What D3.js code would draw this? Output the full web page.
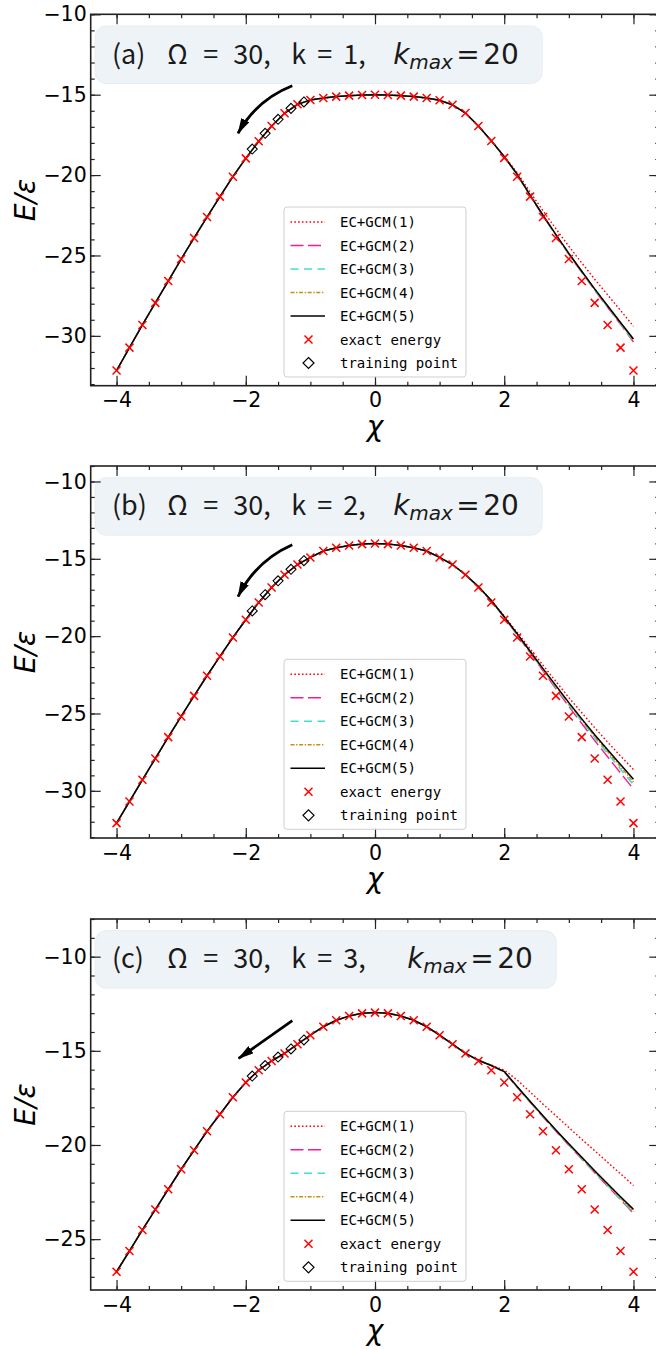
<!DOCTYPE html>
<html><head><meta charset="utf-8">
<script src="https://cdn.jsdelivr.net/npm/d3@7"></script>
<style>body{margin:0;background:#fff} svg{display:block}</style>
</head><body><svg id="chart" width="656" height="1350"></svg>
<script>
// ---------- data ----------
const xs = [-4,-3.8,-3.6,-3.4,-3.2,-3,-2.8,-2.6,-2.4,-2.2,-2,-1.8,-1.6,-1.4,-1.2,-1,-0.8,-0.6,-0.4,-0.2,0,0.2,0.4,0.6,0.8,1,1.2,1.4,1.6,1.8,2,2.2,2.4,2.6,2.8,3,3.2,3.4,3.6,3.8,4];
const trainX = [-1.9,-1.7,-1.5,-1.3,-1.1];

// panel (a)
const exactA = [-32.16,-30.73,-29.32,-27.95,-26.59,-25.22,-23.91,-22.61,-21.34,-20.10,-18.96,-17.90,-16.95,-16.16,-15.60,-15.33,-15.21,-15.12,-15.06,-15.02,-15.00,-15.02,-15.06,-15.12,-15.21,-15.35,-15.63,-16.14,-16.95,-17.88,-18.93,-20.10,-21.34,-22.61,-23.91,-25.22,-26.59,-27.95,-29.32,-30.73,-32.16];
const gcm1A = [-32.16,-30.73,-29.32,-27.95,-26.59,-25.22,-23.91,-22.61,-21.34,-20.10,-18.96,-17.90,-16.95,-16.16,-15.60,-15.33,-15.21,-15.12,-15.06,-15.02,-15.00,-15.02,-15.06,-15.12,-15.21,-15.35,-15.63,-16.14,-16.95,-17.87,-18.83,-19.85,-21.05,-22.22,-23.34,-24.43,-25.46,-26.48,-27.45,-28.42,-29.40];
const gcm2A = [-32.16,-30.73,-29.32,-27.95,-26.59,-25.22,-23.91,-22.61,-21.34,-20.10,-18.96,-17.90,-16.95,-16.16,-15.60,-15.33,-15.21,-15.12,-15.06,-15.02,-15.00,-15.02,-15.06,-15.12,-15.21,-15.35,-15.63,-16.14,-16.95,-17.87,-18.86,-19.97,-21.28,-22.54,-23.75,-24.93,-26.05,-27.16,-28.23,-29.29,-30.38];
const gcm3A = [-32.16,-30.73,-29.32,-27.95,-26.59,-25.22,-23.91,-22.61,-21.34,-20.10,-18.96,-17.90,-16.95,-16.16,-15.60,-15.33,-15.21,-15.12,-15.06,-15.02,-15.00,-15.02,-15.06,-15.12,-15.21,-15.35,-15.63,-16.14,-16.95,-17.87,-18.86,-19.96,-21.27,-22.53,-23.73,-24.91,-26.03,-27.13,-28.20,-29.25,-30.33];
const gcm4A = [-32.16,-30.73,-29.32,-27.95,-26.59,-25.22,-23.91,-22.61,-21.34,-20.10,-18.96,-17.90,-16.95,-16.16,-15.60,-15.33,-15.21,-15.12,-15.06,-15.02,-15.00,-15.02,-15.06,-15.12,-15.21,-15.35,-15.63,-16.14,-16.95,-17.87,-18.85,-19.96,-21.26,-22.52,-23.72,-24.90,-26.01,-27.11,-28.17,-29.22,-30.28];
const gcm5A = [-32.16,-30.73,-29.32,-27.95,-26.59,-25.22,-23.91,-22.61,-21.34,-20.10,-18.96,-17.90,-16.95,-16.16,-15.60,-15.33,-15.21,-15.12,-15.06,-15.02,-15.00,-15.02,-15.06,-15.12,-15.21,-15.35,-15.63,-16.14,-16.95,-17.87,-18.85,-19.95,-21.25,-22.50,-23.70,-24.87,-25.98,-27.08,-28.13,-29.17,-30.20];
const trainA = [-18.38,-17.40,-16.53,-15.85,-15.45];

// panel (b)
const exactB = [-32.09,-30.69,-29.29,-27.91,-26.53,-25.19,-23.86,-22.56,-21.31,-20.09,-18.94,-17.82,-16.85,-16.03,-15.37,-14.91,-14.50,-14.29,-14.14,-14.05,-14.01,-14.05,-14.14,-14.29,-14.50,-14.91,-15.37,-16.03,-16.85,-17.82,-18.94,-20.09,-21.31,-22.56,-23.86,-25.19,-26.53,-27.91,-29.29,-30.69,-32.09];
const gcm1B = [-32.09,-30.69,-29.29,-27.91,-26.53,-25.19,-23.86,-22.56,-21.31,-20.09,-18.94,-17.82,-16.85,-16.03,-15.37,-14.91,-14.50,-14.29,-14.14,-14.05,-14.01,-14.05,-14.14,-14.29,-14.50,-14.91,-15.37,-16.03,-16.80,-17.68,-18.70,-19.75,-20.82,-21.88,-22.93,-23.97,-24.95,-25.92,-26.85,-27.75,-28.62];
const gcm2B = [-32.09,-30.69,-29.29,-27.91,-26.53,-25.19,-23.86,-22.56,-21.31,-20.09,-18.94,-17.82,-16.85,-16.03,-15.37,-14.91,-14.50,-14.29,-14.14,-14.05,-14.01,-14.05,-14.14,-14.29,-14.50,-14.91,-15.37,-16.03,-16.80,-17.72,-18.78,-19.92,-21.08,-22.25,-23.40,-24.55,-25.65,-26.75,-27.80,-28.85,-29.88];
const gcm3B = [-32.09,-30.69,-29.29,-27.91,-26.53,-25.19,-23.86,-22.56,-21.31,-20.09,-18.94,-17.82,-16.85,-16.03,-15.37,-14.91,-14.50,-14.29,-14.14,-14.05,-14.01,-14.05,-14.14,-14.29,-14.50,-14.91,-15.37,-16.03,-16.80,-17.71,-18.77,-19.90,-21.04,-22.18,-23.30,-24.43,-25.50,-26.57,-27.58,-28.60,-29.60];
const gcm4B = [-32.09,-30.69,-29.29,-27.91,-26.53,-25.19,-23.86,-22.56,-21.31,-20.09,-18.94,-17.82,-16.85,-16.03,-15.37,-14.91,-14.50,-14.29,-14.14,-14.05,-14.01,-14.05,-14.14,-14.29,-14.50,-14.91,-15.37,-16.03,-16.80,-17.71,-18.76,-19.88,-21.01,-22.14,-23.25,-24.36,-25.42,-26.48,-27.46,-28.45,-29.42];
const gcm5B = [-32.09,-30.69,-29.29,-27.91,-26.53,-25.19,-23.86,-22.56,-21.31,-20.09,-18.94,-17.82,-16.85,-16.03,-15.37,-14.91,-14.50,-14.29,-14.14,-14.05,-14.01,-14.05,-14.14,-14.29,-14.50,-14.91,-15.37,-16.03,-16.80,-17.70,-18.75,-19.85,-20.98,-22.10,-23.20,-24.30,-25.35,-26.38,-27.35,-28.30,-29.25];
const trainB = [-18.37,-17.32,-16.42,-15.68,-15.12];

// panel (c)
const exactC = [-26.73,-25.63,-24.51,-23.43,-22.35,-21.29,-20.28,-19.27,-18.37,-17.47,-16.68,-16.03,-15.54,-15.14,-14.65,-14.17,-13.72,-13.38,-13.15,-13.01,-12.97,-13.01,-13.15,-13.38,-13.72,-14.17,-14.65,-15.14,-15.54,-16.03,-16.68,-17.47,-18.37,-19.27,-20.28,-21.29,-22.35,-23.43,-24.51,-25.63,-26.73];
const gcm1C = [-26.73,-25.63,-24.51,-23.43,-22.35,-21.29,-20.28,-19.27,-18.37,-17.47,-16.68,-16.03,-15.54,-15.14,-14.65,-14.17,-13.72,-13.38,-13.15,-13.01,-12.97,-13.01,-13.15,-13.38,-13.72,-14.17,-14.65,-15.14,-15.50,-15.76,-16.02,-16.55,-17.18,-17.83,-18.45,-19.07,-19.70,-20.30,-20.92,-21.53,-22.15];
const gcm2C = [-26.73,-25.63,-24.51,-23.43,-22.35,-21.29,-20.28,-19.27,-18.37,-17.47,-16.68,-16.03,-15.54,-15.14,-14.65,-14.17,-13.72,-13.38,-13.15,-13.01,-12.97,-13.01,-13.15,-13.38,-13.72,-14.17,-14.65,-15.14,-15.50,-15.79,-16.12,-16.94,-17.73,-18.51,-19.27,-20.01,-20.75,-21.48,-22.19,-22.90,-23.64];
const gcm3C = [-26.73,-25.63,-24.51,-23.43,-22.35,-21.29,-20.28,-19.27,-18.37,-17.47,-16.68,-16.03,-15.54,-15.14,-14.65,-14.17,-13.72,-13.38,-13.15,-13.01,-12.97,-13.01,-13.15,-13.38,-13.72,-14.17,-14.65,-15.14,-15.50,-15.79,-16.12,-16.93,-17.72,-18.49,-19.25,-19.99,-20.72,-21.45,-22.15,-22.86,-23.60];
const gcm4C = [-26.73,-25.63,-24.51,-23.43,-22.35,-21.29,-20.28,-19.27,-18.37,-17.47,-16.68,-16.03,-15.54,-15.14,-14.65,-14.17,-13.72,-13.38,-13.15,-13.01,-12.97,-13.01,-13.15,-13.38,-13.72,-14.17,-14.65,-15.14,-15.50,-15.78,-16.11,-16.92,-17.70,-18.47,-19.23,-19.96,-20.69,-21.41,-22.11,-22.81,-23.55];
const gcm5C = [-26.73,-25.63,-24.51,-23.43,-22.35,-21.29,-20.28,-19.27,-18.37,-17.47,-16.68,-16.03,-15.54,-15.14,-14.65,-14.17,-13.72,-13.38,-13.15,-13.01,-12.97,-13.01,-13.15,-13.38,-13.72,-14.17,-14.65,-15.14,-15.50,-15.78,-16.10,-16.90,-17.68,-18.45,-19.20,-19.93,-20.65,-21.37,-22.06,-22.75,-23.42];
const trainC = [-16.34,-15.78,-15.33,-14.90,-14.42];

const seriesNames = ["EC+GCM(1)","EC+GCM(2)","EC+GCM(3)","EC+GCM(4)","EC+GCM(5)"];
const xTicks = [-4,-2,0,2,4];
const panelLabels = ["(a)","(b)","(c)"];
const kValues = ["1","2","3"];

// ---------- styles ----------
const lineStyles = [
  {color:"#ff0000", dash:"1.6,2.2", w:1.4},
  {color:"#ff1a8c", dash:"13,4.5", w:1.4},
  {color:"#40e0d0", dash:"8,5.5", w:1.6},
  {color:"#c8900a", dash:"4,1.6,1.4,1.6", w:1.4},
  {color:"#000000", dash:null, w:1.5}
];

const panels = [
  {exact:exactA, lines:[gcm1A,gcm2A,gcm3A,gcm4A,gcm5A], train:trainA, top:14.3, bottom:385.7, ydom:[-33.1,-10], yMajor:[-30,-25,-20,-15,-10],
   arrow:{from:[-1.28,-14.44], to:[-2.12,-17.40], rad:-0.18}, boxW:447, kShift:0},
  {exact:exactB, lines:[gcm1B,gcm2B,gcm3B,gcm4B,gcm5B], train:trainB, top:466, bottom:838, ydom:[-33.05,-9], yMajor:[-30,-25,-20,-15,-10],
   arrow:{from:[-1.28,-14.09], to:[-2.12,-17.44], rad:-0.18}, boxW:447, kShift:0},
  {exact:exactC, lines:[gcm1C,gcm2C,gcm3C,gcm4C,gcm5C], train:trainC, top:919, bottom:1290, ydom:[-27.7,-8], yMajor:[-25,-20,-15,-10],
   arrow:{from:[-1.28,-13.40], to:[-2.11,-15.40], rad:0}, boxW:461, kShift:14}
];

const svg = d3.select("#chart");
const defs = svg.append("defs");
defs.append("marker").attr("id","ahead").attr("markerUnits","userSpaceOnUse")
  .attr("viewBox","0 0 16 9").attr("refX",15).attr("refY",4.5)
  .attr("markerWidth",16).attr("markerHeight",9).attr("orient","auto")
  .append("path").attr("d","M0,0 L16,4.5 L0,9 Z").attr("fill","#000");

const X = d3.scaleLinear().domain([-4.4,4.4]).range([90.7,659.3]);
const tickFont = "'DejaVu Sans', sans-serif";

function crossPath(s){ return `M${-s},${-s}L${s},${s}M${-s},${s}L${s},${-s}`; }
function diamondPath(s){ return `M0,${-s}L${s},0L0,${s}L${-s},0Z`; }

panels.forEach((p, pi) => {
  const Y = d3.scaleLinear().domain(p.ydom).range([p.bottom, p.top]);
  const g = svg.append("g");
  const L = X.range()[0], R = X.range()[1];

  // title box
  const bx = L + 4.5, by = p.top + 11.7;
  g.append("rect").attr("x",bx).attr("y",by).attr("width",p.boxW).attr("height",57.5)
    .attr("rx",11).attr("fill","#eef3f7").attr("stroke","#e8edf2").attr("stroke-width",1);
  const base = by + 37.5;
  const cjk = "'Noto Sans CJK SC','Noto Sans',sans-serif";
  const tk = [
    {t:panelLabels[pi], dx:16.7},{t:"Ω", dx:72},{t:"=", dx:108},{t:"30,", dx:138},
    {t:"k", dx:196},{t:"=", dx:222},{t:kValues[pi]+",", dx:248}
  ];
  tk.forEach(o => g.append("text").attr("x",bx+o.dx).attr("y",base).text(o.t)
    .attr("font-family",cjk).attr("font-size",27).attr("fill","#1a1a1a"));
  const mf = "'DejaVu Sans',sans-serif";
  g.append("text").attr("x",bx+298+p.kShift).attr("y",base).text("k")
    .attr("font-family",mf).attr("font-style","italic").attr("font-size",28).attr("fill","#1a1a1a");
  g.append("text").attr("x",bx+314+p.kShift).attr("y",base+5).text("max")
    .attr("font-family",mf).attr("font-style","italic").attr("font-size",20).attr("fill","#1a1a1a");
  g.append("text").attr("x",bx+361+p.kShift).attr("y",base).text("=")
    .attr("font-family",mf).attr("font-size",28).attr("fill","#1a1a1a");
  g.append("text").attr("x",bx+388+p.kShift).attr("y",base).text("20")
    .attr("font-family",mf).attr("font-size",28).attr("fill","#1a1a1a");

  // lines
  const line = d3.line().x((d,i)=>X(xs[i])).y(d=>Y(d));
  p.lines.forEach((arr, si) => {
    const st = lineStyles[si];
    g.append("path").attr("d", line(arr)).attr("fill","none")
      .attr("stroke", st.color).attr("stroke-width", st.w)
      .attr("stroke-dasharray", st.dash);
  });
  // exact energy crosses
  g.append("g").selectAll("path").data(p.exact).join("path")
    .attr("transform",(d,i)=>`translate(${X(xs[i])},${Y(d)})`)
    .attr("d", crossPath(4)).attr("stroke","#ff0000").attr("stroke-width",1.5).attr("fill","none");
  // training points
  g.append("g").selectAll("path").data(p.train).join("path")
    .attr("transform",(d,i)=>`translate(${X(trainX[i])},${Y(d)})`)
    .attr("d", diamondPath(5)).attr("stroke","#000").attr("stroke-width",1.1).attr("fill","none");

  // arrow
  const x0 = X(p.arrow.from[0]), y0 = Y(p.arrow.from[1]);
  const x2 = X(p.arrow.to[0]), y2 = Y(p.arrow.to[1]);
  const dx = x2-x0, dy = y2-y0;
  const cx = (x0+x2)/2 + p.arrow.rad*dy, cy = (y0+y2)/2 - p.arrow.rad*dx;
  g.append("path").attr("d",`M${x0},${y0}Q${cx},${cy} ${x2},${y2}`)
    .attr("fill","none").attr("stroke","#000").attr("stroke-width",2.8)
    .attr("marker-end","url(#ahead)");

  // axes: ticks
  const axColor = "#222";
  const bottomMaj = d3.axisBottom(X).tickValues(xTicks).tickSize(-10).tickSizeOuter(0).tickPadding(7);
  const bottomMin = d3.axisBottom(X).tickValues(d3.range(-4,4.01,0.5)).tickSize(-4).tickSizeOuter(0).tickFormat("");
  const topMaj = d3.axisTop(X).tickValues(xTicks).tickSize(-10).tickSizeOuter(0).tickFormat("");
  const topMin = d3.axisTop(X).tickValues(d3.range(-4,4.01,0.5)).tickSize(-4).tickSizeOuter(0).tickFormat("");
  const yMinVals = d3.range(Math.ceil(p.ydom[0]), Math.floor(p.ydom[1])+0.01, 1);
  const leftMaj = d3.axisLeft(Y).tickValues(p.yMajor).tickSize(-10).tickSizeOuter(0).tickPadding(4);
  const leftMin = d3.axisLeft(Y).tickValues(yMinVals).tickSize(-4).tickSizeOuter(0).tickFormat("");
  const rightMaj = d3.axisRight(Y).tickValues(p.yMajor).tickSize(-10).tickSizeOuter(0).tickFormat("");
  const rightMin = d3.axisRight(Y).tickValues(yMinVals).tickSize(-4).tickSizeOuter(0).tickFormat("");

  const axes = [
    [bottomMaj, `translate(0,${p.bottom})`], [bottomMin, `translate(0,${p.bottom})`],
    [topMaj, `translate(0,${p.top})`], [topMin, `translate(0,${p.top})`],
    [leftMaj, `translate(${L},0)`], [leftMin, `translate(${L},0)`],
    [rightMaj, `translate(${R},0)`], [rightMin, `translate(${R},0)`]
  ];
  axes.forEach(([ax, tr]) => {
    const a = g.append("g").attr("transform", tr).call(ax);
    a.select(".domain").remove();
    a.selectAll("line").attr("stroke", axColor).attr("stroke-width", 1.2);
    a.selectAll("text").attr("font-family", tickFont).attr("font-size", 20.5).attr("fill","#000");
  });
  // spines
  g.append("rect").attr("x",L).attr("y",p.top).attr("width",R-L).attr("height",p.bottom-p.top)
    .attr("fill","none").attr("stroke",axColor).attr("stroke-width",1.6);

  // axis labels
  g.append("text").attr("transform",`translate(35,${(p.top+p.bottom)/2}) rotate(-90)`)
    .attr("text-anchor","middle").text("E/ε")
    .attr("font-family",mf).attr("font-style","italic").attr("font-size",28);
  g.append("text").attr("x",X(0)).attr("y",p.bottom+50).attr("text-anchor","middle").text("χ")
    .attr("font-family",mf).attr("font-style","italic").attr("font-size",28);

  // legend (lower center)
  const lw = 182, lh = 170;
  const lx = X(0) - lw/2, ly = p.bottom - 8.7 - lh;
  const lg = g.append("g").attr("transform",`translate(${lx},${ly})`);
  lg.append("rect").attr("width",lw).attr("height",lh).attr("rx",3)
    .attr("fill","#fff").attr("fill-opacity",0.85).attr("stroke","#cfcfcf").attr("stroke-width",1);
  const rowY = i => 15 + i*23.5;
  const lf = "'DejaVu Sans Mono','Liberation Mono',monospace";
  seriesNames.forEach((nm, i) => {
    const st = lineStyles[i];
    lg.append("line").attr("x1",6.5).attr("x2",41).attr("y1",rowY(i)).attr("y2",rowY(i))
      .attr("stroke",st.color).attr("stroke-width",st.w).attr("stroke-dasharray",st.dash);
    lg.append("text").attr("x",56).attr("y",rowY(i)+5).text(nm)
      .attr("font-family",lf).attr("font-size",14).attr("fill","#000");
  });
  lg.append("path").attr("transform",`translate(24.5,${rowY(5)})`).attr("d",crossPath(4))
    .attr("stroke","#ff0000").attr("stroke-width",1.5);
  lg.append("text").attr("x",56).attr("y",rowY(5)+5).text("exact energy")
    .attr("font-family",lf).attr("font-size",14);
  lg.append("path").attr("transform",`translate(24.5,${rowY(6)})`).attr("d",diamondPath(5.5))
    .attr("stroke","#000").attr("stroke-width",1.2).attr("fill","none");
  lg.append("text").attr("x",56).attr("y",rowY(6)+5).text("training point")
    .attr("font-family",lf).attr("font-size",14);
});
</script>
</body></html>
